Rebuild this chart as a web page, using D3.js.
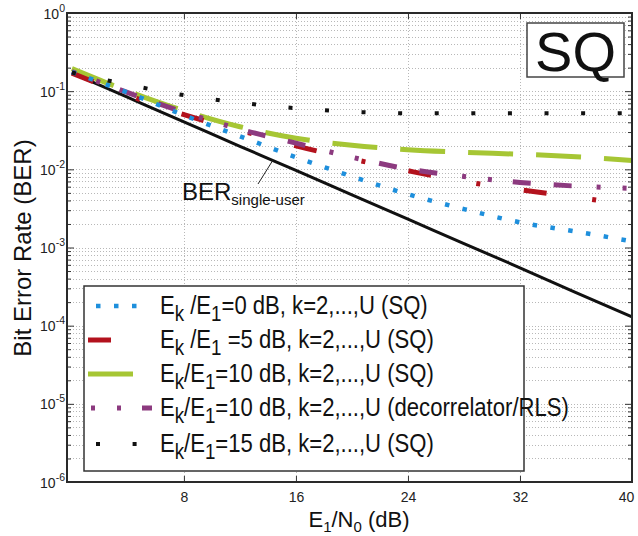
<!DOCTYPE html>
<html>
<head>
<meta charset="utf-8">
<script src="https://cdn.jsdelivr.net/npm/d3@7"></script>
<style>
  body { margin: 0; background: #fff; }
  svg { display: block; font-family: "Liberation Sans", Arial, Helvetica, sans-serif; }
</style>
</head>
<body>
<svg id="chart" width="638" height="536"></svg>
<script>
// values, E1/N0 in dB
let snrDb          = [ 0, 4, 8, 12, 16, 20, 24, 28, 32, 36, 40 ];
let berSingleUser  = [ 0.170, 0.083, 0.0405, 0.0197, 0.0097, 0.0047, 0.0023, 0.00112, 0.00055, 0.000265, 0.00013 ];
let berSq0dB       = [ 0.175, 0.0957, 0.0492, 0.0265, 0.0143, 0.0081, 0.0048, 0.0031, 0.0021, 0.0016, 0.0012 ];
let berSq5dB       = [ 0.170, 0.0889, 0.050, 0.0316, 0.020, 0.0136, 0.0096, 0.0070, 0.0055, 0.0044, 0.0035 ];
let berSq10dB      = [ 0.194, 0.100, 0.0562, 0.0351, 0.025, 0.0203, 0.0178, 0.0165, 0.0156, 0.0145, 0.0130 ];
let berDecorr10dB  = [ 0.178, 0.0957, 0.0538, 0.0326, 0.0216, 0.0143, 0.0101, 0.0081, 0.0068, 0.0061, 0.0057 ];
let berSq15dB      = [ 0.173, 0.121, 0.0889, 0.0713, 0.0605, 0.0546, 0.0522, 0.0522, 0.0522, 0.0522, 0.0522 ];

let xTicks      = [ 8, 16, 24, 32, 40 ];
let yExponents  = [ 0, -1, -2, -3, -4, -5, -6 ];
let legendTails = [ "=0 dB, k=2,...,U (SQ)", " =5 dB, k=2,...,U (SQ)", "=10 dB, k=2,...,U (SQ)",
                    "=10 dB, k=2,...,U (decorrelator/RLS)", "=15 dB, k=2,...,U (SQ)" ];

const svg = d3.select("#chart");
svg.append("rect").attr("width", 638).attr("height", 536).attr("fill", "#fff");

const L = 67, R = 632, T = 13, B = 482;
const x = d3.scaleLinear().domain([-0.35, 40]).range([L, R]);
const y = d3.scaleLog().domain([1e-6, 1]).range([B, T]);

const yMajor = yExponents.map(e => Math.pow(10, e));
const yMinor = [];
d3.range(-6, 0).forEach(e => { for (let m = 2; m <= 9; m++) yMinor.push(m * Math.pow(10, e)); });

// grid
const grid = svg.append("g").attr("stroke", "#b8b8b8").attr("stroke-width", 1).attr("stroke-dasharray", "1,2");
grid.selectAll(".gy").data(yMinor.concat(yMajor.slice(1, -1))).enter().append("line")
    .attr("x1", L).attr("x2", R).attr("y1", d => Math.round(y(d)) + 0.5).attr("y2", d => Math.round(y(d)) + 0.5);
grid.selectAll(".gx").data(xTicks.slice(0, -1)).enter().append("line")
    .attr("y1", T).attr("y2", B).attr("x1", d => Math.round(x(d)) + 0.5).attr("x2", d => Math.round(x(d)) + 0.5);

// inward ticks on all four sides
const tickAxis = (gen, tx, ty) => {
    const g = svg.append("g").attr("transform", "translate(" + tx + "," + ty + ")").call(gen);
    g.select(".domain").remove();
    g.selectAll("line").attr("stroke", "#333");
    return g;
};
tickAxis(d3.axisLeft(y).tickValues(yMajor).tickSize(-7).tickFormat(""), L, 0);
tickAxis(d3.axisLeft(y).tickValues(yMinor).tickSize(-4).tickFormat(""), L, 0);
tickAxis(d3.axisRight(y).tickValues(yMajor).tickSize(-7).tickFormat(""), R, 0);
tickAxis(d3.axisRight(y).tickValues(yMinor).tickSize(-4).tickFormat(""), R, 0);
tickAxis(d3.axisBottom(x).tickValues(xTicks).tickSize(-6).tickFormat(""), 0, B);
tickAxis(d3.axisTop(x).tickValues(xTicks).tickSize(-6).tickFormat(""), 0, T);

// tick labels
const xLab = svg.append("g").attr("transform", "translate(0," + B + ")")
    .call(d3.axisBottom(x).tickValues(xTicks).tickSize(0).tickPadding(10));
xLab.select(".domain").remove();
xLab.selectAll("text").attr("font-size", 14).attr("font-family", null).attr("fill", "#222")
    .attr("dx", d => d === 40 ? -6 : 0);

const yLab = svg.append("g").attr("transform", "translate(" + L + ",0)")
    .call(d3.axisLeft(y).tickValues(yMajor).tickSize(0).tickFormat(""));
yLab.select(".domain").remove();
yLab.selectAll(".tick text").each(function (d) {
    const t = d3.select(this).attr("x", -2).attr("dy", "0.36em").attr("font-size", 14)
        .attr("font-family", null).attr("fill", "#222").attr("text-anchor", "end");
    t.append("tspan").text("10");
    t.append("tspan").attr("dy", -7).attr("font-size", 10.5).text(Math.round(Math.log10(d)));
});

// curves
const line = d3.line().x(d => x(d[0])).y(d => y(d[1])).curve(d3.curveMonotoneX);
const pts = arr => snrDb.map((s, i) => [ s, arr[i] ]);

const plot = svg.append("g").attr("fill", "none");
plot.append("path").attr("d", line(pts(berSingleUser)))
    .attr("stroke", "#111").attr("stroke-width", 3);

const styles = [
    { data: berSq0dB,      color: "#1e8fdc", w: 4.5, dash: "4.5,13.5" },
    { data: berSq5dB,      color: "#b3121d", w: 5,   dash: "23,46,4,44" },
    { data: berSq10dB,     color: "#a6c634", w: 5,   dash: "45,23" },
    { data: berDecorr10dB, color: "#8c3a7f", w: 5,   dash: "4,22,4,21,18,23,18,25" },
    { data: berSq15dB,     color: "#111111", w: 4,   dash: "4,32.6" }
];
const drawOrder = [ 2, 1, 3, 0, 4 ];
drawOrder.forEach(i => {
    const s = styles[i];
    plot.append("path").attr("d", line(pts(s.data)))
        .attr("stroke", s.color).attr("stroke-width", s.w).attr("stroke-dasharray", s.dash);
});

// frame
svg.append("rect").attr("x", L).attr("y", T).attr("width", R - L).attr("height", B - T)
    .attr("fill", "none").attr("stroke", "#2a2a2a").attr("stroke-width", 2);

// single-user annotation
svg.append("line").attr("x1", 258).attr("y1", 184).attr("x2", 273).attr("y2", 160)
    .attr("stroke", "#222").attr("stroke-width", 1);
const ann = svg.append("text").attr("x", 182).attr("y", 200).attr("font-size", 24).attr("fill", "#111");
ann.append("tspan").text("BER");
ann.append("tspan").attr("dy", 5).attr("font-size", 15).text("single-user");

// SQ box
svg.append("rect").attr("x", 527).attr("y", 23).attr("width", 97).attr("height", 54)
    .attr("fill", "#fff").attr("stroke", "#444").attr("stroke-width", 1.5);
svg.append("text").attr("x", 575.5).attr("y", 71).attr("text-anchor", "middle")
    .attr("font-size", 56).attr("fill", "#111").text("SQ");

// legend
svg.append("rect").attr("x", 84).attr("y", 286).attr("width", 440).attr("height", 185)
    .attr("fill", "#fff").attr("stroke", "#333").attr("stroke-width", 1.5);
const rowY = [ 306, 340, 374, 408, 444 ];
const sampleX = [ [96, 140], [88, 111], [88, 133], [91, 152], [96, 140] ];
styles.forEach((s, i) => {
    svg.append("line").attr("x1", sampleX[i][0]).attr("x2", sampleX[i][1])
        .attr("y1", rowY[i]).attr("y2", rowY[i])
        .attr("stroke", s.color).attr("stroke-width", s.w).attr("stroke-dasharray", s.dash);
    const t = svg.append("text").attr("transform", "translate(160," + (rowY[i] + 8) + ") scale(0.85,1)")
        .attr("font-size", 26).attr("fill", "#111");
    t.append("tspan").text("E");
    t.append("tspan").attr("dy", 7).attr("font-size", 22).text("k");
    t.append("tspan").attr("dy", -7).text(i < 2 ? " /E" : "/E");
    t.append("tspan").attr("dy", 7).attr("font-size", 22).text("1");
    t.append("tspan").attr("dy", -7).text(legendTails[i]);
});

// axis titles
svg.append("text").attr("transform", "translate(31,248) rotate(-90)").attr("text-anchor", "middle")
    .attr("font-size", 24).attr("fill", "#111").text("Bit Error Rate (BER)");
const xt = svg.append("text").attr("x", 359).attr("y", 527).attr("text-anchor", "middle")
    .attr("font-size", 22).attr("fill", "#111");
xt.append("tspan").text("E");
xt.append("tspan").attr("dy", 5).attr("font-size", 15).text("1");
xt.append("tspan").attr("dy", -5).text("/N");
xt.append("tspan").attr("dy", 5).attr("font-size", 15).text("0");
xt.append("tspan").attr("dy", -5).text(" (dB)");
</script>
</body>
</html>
